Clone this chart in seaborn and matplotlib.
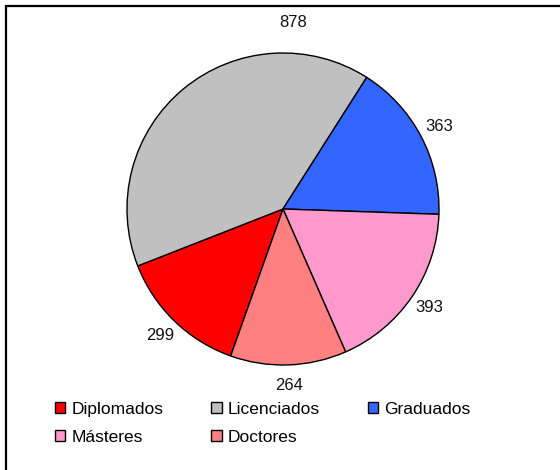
import matplotlib
matplotlib.use("Agg")
import numpy as np
import matplotlib.pyplot as plt
import seaborn as sns
from matplotlib.patches import Patch, Rectangle

# --------------------- Data ---------------------
categories = ["Diplomados", "Licenciados", "Graduados", "Másteres", "Doctores"]
values = [299, 878, 363, 393, 264]
colors = ["#FF0000", "#C0C0C0", "#3366FF", "#FF99CC", "#FF8080"]

sns.set_style("white")
plt.rcParams["font.family"] = ["Liberation Sans", "DejaVu Sans"]
palette = sns.color_palette(colors)

fig = plt.figure(figsize=(5.6, 4.7), dpi=100)

# pie centred at (283, 209) px with radius 156 px
cx, cy, r = 283, 209, 156
ax = fig.add_axes([(cx - r) / 560, (470 - cy - r) / 470, 2 * r / 560, 2 * r / 470])

wedges, texts = ax.pie(
    values,
    labels=[str(v) for v in values],
    colors=palette,
    startangle=250.4,
    counterclock=False,
    labeldistance=1.13,
    wedgeprops=dict(edgecolor="black", linewidth=1.0),
    textprops=dict(fontsize=12, color="#111111"),
)
for t in texts:
    t.set_ha("center")
    t.set_va("center")
# Licenciados label sits near the top of the pie in the original
ang = np.deg2rad(87)
texts[1].set_position((1.2 * np.cos(ang), 1.2 * np.sin(ang)))

ax.set_xlim(-1, 1)
ax.set_ylim(-1, 1)
ax.set_aspect("equal")
ax.axis("off")

# legend is filled row by row in the original; matplotlib fills columns
handles = [Patch(facecolor=c, edgecolor="black", linewidth=1.0) for c in palette]
order = [0, 3, 1, 4, 2]
leg = fig.legend(
    [handles[i] for i in order], [categories[i] for i in order],
    loc="upper left", bbox_to_anchor=(55 / 560, 1 - 402 / 470),
    ncol=3, frameon=False, fontsize=12.5,
    handlelength=0.6, handleheight=0.6, handletextpad=0.35,
    columnspacing=2.75, labelspacing=0.75, borderpad=0, borderaxespad=0,
)
for t in leg.get_texts():
    t.set_color("black")

# chart frame (only left and top edges show in the original)
fig.add_artist(Rectangle((6 / 560, -0.1), 1.2, 1.1 - 6 / 470,
                         transform=fig.transFigure, fill=False,
                         edgecolor="#000000", linewidth=1.6))

plt.savefig("out.png", dpi=100)
